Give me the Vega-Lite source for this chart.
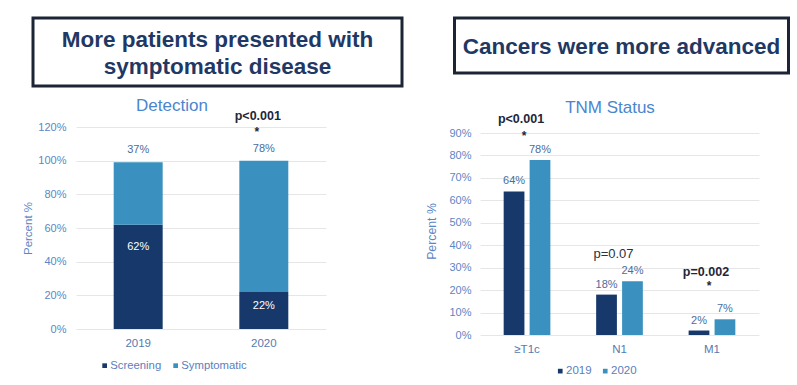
{
  "$schema": "https://vega.github.io/schema/vega-lite/v6.json",
  "background": "white",
  "padding": {"left": 22, "top": 16, "right": 0, "bottom": 0},
  "autosize": {"type": "pad"},
  "bounds": "flush",
  "columns": 2,
  "spacing": {"row": 41, "column": 52.5},
  "config": {
    "view": {"stroke": null},
    "font": "Liberation Sans",
    "axis": {"labelFont": "Liberation Sans", "titleFont": "Liberation Sans", "domain": false, "ticks": false, "tickSize": 0, "labelOverlap": false},
    "legend": {"labelFont": "Liberation Sans"}
  },
  "datasets": {
    "detection": [
      {"year": "2019", "type": "Screening", "value": 0.62},
      {"year": "2019", "type": "Symptomatic", "value": 0.37},
      {"year": "2020", "type": "Screening", "value": 0.22},
      {"year": "2020", "type": "Symptomatic", "value": 0.78}
    ],
    "detp": [
      {"year": "2020", "label": "p<0.001", "ly": 1.267, "star": "*", "sy": 1.172}
    ],
    "tnm": [
      {"stage": "≥T1c", "year": "2019", "value": 0.64},
      {"stage": "≥T1c", "year": "2020", "value": 0.78},
      {"stage": "N1", "year": "2019", "value": 0.18},
      {"stage": "N1", "year": "2020", "value": 0.24},
      {"stage": "M1", "year": "2019", "value": 0.02},
      {"stage": "M1", "year": "2020", "value": 0.07}
    ],
    "tnmp": [
      {"stage": "≥T1c", "label": "p<0.001", "sig": true, "ly": 0.962, "star": "*", "sy": 0.889},
      {"stage": "N1", "label": "p=0.07", "sig": false, "ly": 0.363, "star": "", "sy": 0.3},
      {"stage": "M1", "label": "p=0.002", "sig": true, "ly": 0.28, "star": "*", "sy": 0.217}
    ]
  },
  "resolve": {
    "scale": {"color": "independent", "x": "independent", "y": "independent"},
    "legend": {"color": "independent"}
  },
  "concat": [
    {
      "width": 369,
      "height": 68,
      "view": {"stroke": "#1b2536", "strokeWidth": 3},
      "data": {"values": [{"t": "More patients presented with\nsymptomatic disease"}]},
      "mark": {"type": "text", "font": "Liberation Sans", "fontSize": 22.5, "fontWeight": "bold", "color": "#1f3864", "lineBreak": "\n", "lineHeight": 27, "baseline": "middle", "align": "center", "dy": -12},
      "encoding": {"text": {"field": "t", "type": "nominal"}}
    },
    {
      "width": 334,
      "height": 55,
      "view": {"stroke": "#1b2536", "strokeWidth": 3},
      "data": {"values": [{"t": "Cancers were more advanced"}]},
      "mark": {"type": "text", "font": "Liberation Sans", "fontSize": 22.5, "fontWeight": "bold", "color": "#1f3864", "baseline": "middle", "align": "center", "dy": 1.5},
      "encoding": {"text": {"field": "t", "type": "nominal"}}
    },
    {
      "width": 293,
      "height": 202,
      "title": {"text": "Detection", "fontSize": 17, "font": "Liberation Sans", "fontWeight": "normal", "color": "#4a86cf", "anchor": "middle", "frame": "group", "offset": -5, "dx": -7.5},
      "data": {"name": "detection"},
      "transform": [
        {"stack": "value", "groupby": ["year"], "sort": [{"field": "type", "order": "ascending"}], "as": ["v0", "v1"]}
      ],
      "layer": [
        {
          "mark": {"type": "bar"},
          "encoding": {
            "x": {"field": "year", "type": "nominal", "scale": {"range": [43, 293], "paddingInner": 0.61, "paddingOuter": 0.3},
                  "axis": {"title": null, "labelAngle": 0, "labelColor": "#5879ad", "labelFontSize": 11.5, "labelPadding": 8, "grid": false}},
            "y": {"field": "v0", "type": "quantitative", "title": "Percent %", "scale": {"domain": [0, 1.2], "nice": false},
                  "axis": {"values": [0, 0.2, 0.4, 0.6, 0.8, 1, 1.2], "tickCount": 20, "format": ".0%", "offset": -43, "grid": true, "gridColor": "#e6e6e6", "gridWidth": 1, "labelOverlap": false,
                           "labelColor": "#5b86c5", "labelFontSize": 11, "labelPadding": 10, "titleColor": "#5b86c5", "titleFontSize": 11.5, "titleFontWeight": "normal", "titlePadding": 4}},
            "y2": {"field": "v1"},
            "color": {"field": "type", "type": "nominal", "scale": {"domain": ["Screening", "Symptomatic"], "range": ["#16386a", "#3a91bf"]},
                      "legend": {"orient": "none", "legendX": 66, "legendY": 233, "direction": "horizontal", "title": null, "symbolType": "square", "symbolSize": 22, "symbolStrokeWidth": 0, "labelFontSize": 11.3, "labelColor": "#5a7ebd", "columnPadding": 8, "labelOffset": 0, "padding": 0}}
          }
        },
        {
          "transform": [{"filter": "datum.type == 'Screening' && datum.year == '2019'"}],
          "mark": {"type": "text", "color": "white", "fontSize": 11, "baseline": "middle", "dy": 22},
          "encoding": {
            "x": {"field": "year", "type": "nominal"},
            "y": {"field": "v1", "type": "quantitative", "title": "Percent %"},
            "text": {"field": "value", "type": "quantitative", "format": ".0%"}
          }
        },
        {
          "transform": [{"filter": "datum.type == 'Screening' && datum.year == '2020'"}],
          "mark": {"type": "text", "color": "white", "fontSize": 11, "baseline": "middle", "dy": 14},
          "encoding": {
            "x": {"field": "year", "type": "nominal"},
            "y": {"field": "v1", "type": "quantitative", "title": "Percent %"},
            "text": {"field": "value", "type": "quantitative", "format": ".0%"}
          }
        },
        {
          "transform": [{"filter": "datum.type == 'Symptomatic'"}],
          "mark": {"type": "text", "color": "#4a6d9e", "fontSize": 11, "baseline": "middle", "dy": -12},
          "encoding": {
            "x": {"field": "year", "type": "nominal"},
            "y": {"field": "v1", "type": "quantitative", "title": "Percent %"},
            "text": {"field": "value", "type": "quantitative", "format": ".0%"}
          }
        },
        {
          "data": {"name": "detp"},
          "mark": {"type": "text", "color": "#1e2638", "fontSize": 12.5, "fontWeight": "bold", "baseline": "middle", "dx": -6},
          "encoding": {
            "x": {"field": "year", "type": "nominal"},
            "y": {"field": "ly", "type": "quantitative", "title": "Percent %"},
            "text": {"field": "label", "type": "nominal"}
          }
        },
        {
          "data": {"name": "detp"},
          "mark": {"type": "text", "color": "#1e2638", "fontSize": 12, "fontWeight": "bold", "baseline": "middle", "dx": -7},
          "encoding": {
            "x": {"field": "year", "type": "nominal"},
            "y": {"field": "sy", "type": "quantitative", "title": "Percent %"},
            "text": {"field": "star", "type": "nominal"}
          }
        }
      ]
    },
    {
      "width": 305,
      "height": 208,
      "title": {"text": "TNM Status", "fontSize": 17, "font": "Liberation Sans", "fontWeight": "normal", "color": "#4a86cf", "anchor": "middle", "frame": "group", "offset": -4, "dx": 3},
      "data": {"name": "tnm"},
      "layer": [
        {
          "mark": {"type": "bar"},
          "encoding": {
            "x": {"field": "stage", "type": "nominal", "sort": ["≥T1c", "N1", "M1"], "scale": {"range": [25.5, 304.5], "paddingInner": 0.495, "paddingOuter": 0.256},
                  "axis": {"title": null, "labelAngle": 0, "labelColor": "#5879ad", "labelFontSize": 11.5, "labelPadding": 8, "grid": false}},
            "xOffset": {"field": "year", "type": "nominal", "scale": {"paddingInner": 0.2, "paddingOuter": 0}},
            "y": {"field": "value", "type": "quantitative", "title": "Percent %", "scale": {"domain": [0, 0.927], "nice": false},
                  "axis": {"values": [0, 0.1, 0.2, 0.3, 0.4, 0.5, 0.6, 0.7, 0.8, 0.9], "tickCount": 20, "format": ".0%", "offset": -25.5, "grid": true, "gridColor": "#e6e6e6", "gridWidth": 1, "labelOverlap": false,
                           "labelColor": "#5b86c5", "labelFontSize": 11, "labelPadding": 9, "titleColor": "#5b86c5", "titleFontSize": 12.3, "titleFontWeight": "normal", "titlePadding": 10}},
            "color": {"field": "year", "type": "nominal", "scale": {"domain": ["2019", "2020"], "range": ["#16386a", "#3a91bf"]},
                      "legend": {"orient": "none", "legendX": 100, "legendY": 238, "direction": "horizontal", "title": null, "symbolType": "square", "symbolSize": 22, "symbolStrokeWidth": 0, "labelFontSize": 11.5, "labelColor": "#5a7ebd", "columnPadding": 7, "labelOffset": 0, "padding": 0}}
          }
        },
        {
          "mark": {"type": "text", "color": "#4a6d9e", "fontSize": 11, "baseline": "middle", "dy": -10},
          "encoding": {
            "x": {"field": "stage", "type": "nominal", "sort": ["≥T1c", "N1", "M1"]},
            "xOffset": {"field": "year", "type": "nominal"},
            "y": {"field": "value", "type": "quantitative", "title": "Percent %"},
            "text": {"field": "value", "type": "quantitative", "format": ".0%"}
          }
        },
        {
          "data": {"name": "tnmp"},
          "transform": [{"filter": "datum.sig"}],
          "mark": {"type": "text", "color": "#1e2638", "fontSize": 12.5, "fontWeight": "bold", "baseline": "middle", "dx": -6},
          "encoding": {
            "x": {"field": "stage", "type": "nominal", "sort": ["≥T1c", "N1", "M1"]},
            "y": {"field": "ly", "type": "quantitative", "title": "Percent %"},
            "text": {"field": "label", "type": "nominal"}
          }
        },
        {
          "data": {"name": "tnmp"},
          "transform": [{"filter": "!datum.sig"}],
          "mark": {"type": "text", "color": "#2a3142", "fontSize": 13, "fontWeight": "normal", "baseline": "middle", "dx": -6},
          "encoding": {
            "x": {"field": "stage", "type": "nominal", "sort": ["≥T1c", "N1", "M1"]},
            "y": {"field": "ly", "type": "quantitative", "title": "Percent %"},
            "text": {"field": "label", "type": "nominal"}
          }
        },
        {
          "data": {"name": "tnmp"},
          "mark": {"type": "text", "color": "#1e2638", "fontSize": 12, "fontWeight": "bold", "baseline": "middle", "dx": -3},
          "encoding": {
            "x": {"field": "stage", "type": "nominal", "sort": ["≥T1c", "N1", "M1"]},
            "y": {"field": "sy", "type": "quantitative", "title": "Percent %"},
            "text": {"field": "star", "type": "nominal"}
          }
        }
      ]
    }
  ]
}
